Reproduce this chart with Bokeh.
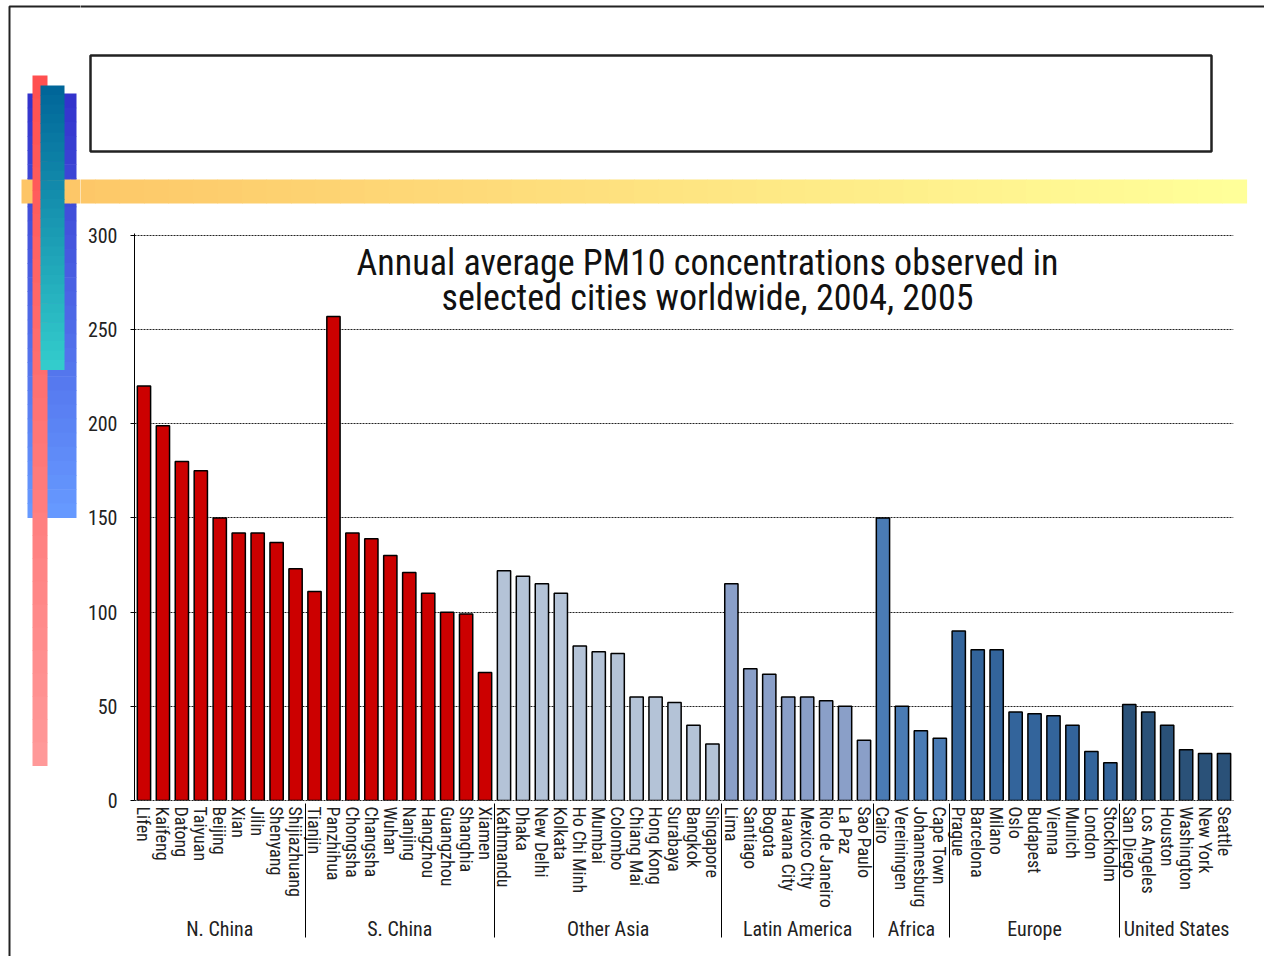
from bokeh.plotting import figure
from bokeh.layouts import row, column
from bokeh.models import (FactorRange, Range1d, Label, ColumnDataSource,
                          SingleIntervalTicker)
from bokeh.embed import file_html
from bokeh.resources import INLINE

# ---------------- data ----------------
regions = ["N. China", "S. China", "Other Asia", "Latin America",
           "Africa", "Europe", "United States"]

n_china = ["Lifen", "Kaifeng", "Datong", "Taiyuan", "Beijing", "Xian",
           "Jilin", "Shenyang", "Shijiazhuang"]
n_china_pm10 = [220, 199, 180, 175, 150, 142, 142, 137, 123]

s_china = ["Tianjin", "Panzhihua", "Chongsha", "Changsha", "Wuhan",
           "Nanjing", "Hangzhou", "Guangzhou", "Shanghia", "Xiamen"]
s_china_pm10 = [111, 257, 142, 139, 130, 121, 110, 100, 99, 68]

other_asia = ["Kathmandu", "Dhaka", "New Delhi", "Kolkata", "Ho Chi Minh",
              "Mumbai", "Colombo", "Chiang Mai", "Hong Kong", "Surabaya",
              "Bangkok", "Singapore"]
other_asia_pm10 = [122, 119, 115, 110, 82, 79, 78, 55, 55, 52, 40, 30]

latin_america = ["Lima", "Santiago", "Bogota", "Havana City", "Mexico City",
                 "Rio de Janeiro", "La Paz", "Sao Paulo"]
latin_america_pm10 = [115, 70, 67, 55, 55, 53, 50, 32]

africa = ["Cairo", "Vereiningen", "Johannesburg", "Cape Town"]
africa_pm10 = [150, 50, 37, 33]

europe = ["Prague", "Barcelona", "Milano", "Oslo", "Budapest", "Vienna",
          "Munich", "London", "Stockholm"]
europe_pm10 = [90, 80, 80, 47, 46, 45, 40, 26, 20]

united_states = ["San Diego", "Los Angeles", "Houston", "Washington",
                 "New York", "Seattle"]
united_states_pm10 = [51, 47, 40, 27, 25, 25]

region_cities = [n_china, s_china, other_asia, latin_america, africa,
                 europe, united_states]
region_values = [n_china_pm10, s_china_pm10, other_asia_pm10,
                 latin_america_pm10, africa_pm10, europe_pm10,
                 united_states_pm10]
region_colors = ["#CC0000", "#CC0000", "#B4C3D7", "#8A9FC8", "#4A7BB4",
                 "#33649B", "#2A5178"]

title_lines = ["Annual average PM10 concentrations observed in",
               "selected cities worldwide, 2004, 2005"]

FONT = "'Liberation Sans Narrow', 'Arial Narrow', 'Roboto Condensed', sans-serif"

# ---------------- slide decoration (page pixels) ----------------
PAGE_W, PAGE_H = 1264, 956
LEFT_W = 80      # width of the left decoration strip
TOP_H = 210      # height of the top decoration strip


def no_align(f):
    try:
        f.frame_align = False
    except Exception:
        pass


def grad(c1, c2, t):
    a = [int(c1[i:i + 2], 16) for i in (1, 3, 5)]
    b = [int(c2[i:i + 2], 16) for i in (1, 3, 5)]
    return "#%02x%02x%02x" % tuple(int(round(a[k] + (b[k] - a[k]) * t)) for k in range(3))


def vgrad(f, l, r, t, b, c1, c2, n=30):
    h = (b - t) / n
    f.quad(left=[l] * n, right=[r] * n,
           top=[t + i * h for i in range(n)],
           bottom=[t + (i + 1) * h + 0.6 for i in range(n)],
           fill_color=[grad(c1, c2, i / (n - 1)) for i in range(n)],
           line_color=None)


def hgrad(f, l, r, t, b, c1, c2, n=50):
    w = (r - l) / n
    f.quad(left=[l + i * w for i in range(n)],
           right=[l + (i + 1) * w + 0.6 for i in range(n)],
           top=[t] * n, bottom=[b] * n,
           fill_color=[grad(c1, c2, i / (n - 1)) for i in range(n)],
           line_color=None)


def decor(f):
    vgrad(f, 27, 76, 93, 517, "#3333CC", "#6699FF")
    hgrad(f, 21, 1246, 179, 203, "#FDC566", "#FFFF99")
    vgrad(f, 32, 47, 75, 765, "#FF5050", "#FF9999")
    vgrad(f, 40, 64, 85, 369, "#006699", "#33CCCC")
    f.quad(left=90, right=1211, top=55, bottom=151, fill_color="white",
           line_color="#222222", line_width=2.5)
    f.quad(left=9, right=1500, top=6, bottom=1200, fill_alpha=0,
           line_color="#222222", line_width=2)


def deco_fig(x0, x1, y0, y1):
    f = figure(width=x1 - x0, height=y1 - y0, x_range=Range1d(x0, x1),
               y_range=Range1d(y1, y0), output_backend="svg",
               toolbar_location=None, min_border=0, x_axis_type=None,
               y_axis_type=None, title=None)
    f.outline_line_color = None
    f.background_fill_color = "white"
    f.border_fill_color = "white"
    no_align(f)
    decor(f)
    return f


left_fig = deco_fig(0, LEFT_W, 0, PAGE_H)
top_fig = deco_fig(LEFT_W, PAGE_W, 0, TOP_H)

# ---------------- chart ----------------
factors, tops, colors = [], [], []
for r, cs, vs, col in zip(regions, region_cities, region_values, region_colors):
    for c, v in zip(cs, vs):
        factors.append((r, c))
        tops.append(v)
        colors.append(col)

src = ColumnDataSource(dict(x=factors, top=tops, color=colors))

p = figure(x_range=FactorRange(*factors, factor_padding=0, group_padding=0,
                               subgroup_padding=0, range_padding=0),
           y_range=Range1d(0, 301),
           width=PAGE_W - LEFT_W, height=PAGE_H - TOP_H,
           output_backend="svg", toolbar_location=None, title=None,
           min_border_left=134 - LEFT_W, min_border_right=31,
           min_border_top=233 - TOP_H, min_border_bottom=156)
p.outline_line_color = None
p.background_fill_color = "white"
p.border_fill_color = "white"
no_align(p)

p.vbar(x="x", top="top", width=0.7, source=src, fill_color="color",
       line_color="black", line_width=1.5)

# y axis
ya = p.yaxis[0]
ya.ticker = SingleIntervalTicker(interval=50, num_minor_ticks=0)
ya.axis_line_color = "black"
ya.major_tick_out = 4
ya.major_tick_in = 0
ya.minor_tick_line_color = None
ya.major_label_text_font = FONT
ya.major_label_text_font_size = "20px"
ya.major_label_text_color = "#222222"
ya.major_label_standoff = 13

p.ygrid.grid_line_color = "#222222"
p.ygrid.grid_line_dash = "2 1"
p.ygrid.grid_line_width = 1
p.xgrid.grid_line_color = None

# x axis
xa = p.xaxis[0]
xa.axis_line_color = "#222222"
xa.axis_line_dash = "2 1"
xa.major_tick_line_color = None
xa.major_tick_out = 0
xa.major_tick_in = 0
xa.major_label_orientation = "vertical"
xa.major_label_standoff = 6
xa.major_label_text_font = FONT
xa.major_label_text_font_size = "18px"
xa.major_label_text_color = "#222222"
xa.group_text_font = FONT
xa.group_text_font_size = "20px"
xa.group_text_font_style = "normal"
xa.group_text_color = "#222222"
xa.group_label_orientation = "horizontal"
xa.separator_line_color = "black"
xa.separator_line_width = 1

# chart title inside the plot
for txt, yv in zip(title_lines, [285.6, 266.5]):
    p.add_layout(Label(x=30.24, y=yv, text=txt, text_align="center",
                       text_baseline="middle", text_font=FONT,
                       text_font_size="36px", text_color="#111111"))

layout = row(left_fig, column(top_fig, p, spacing=0), spacing=0)
open("out.html", "w").write(file_html(layout, INLINE))
